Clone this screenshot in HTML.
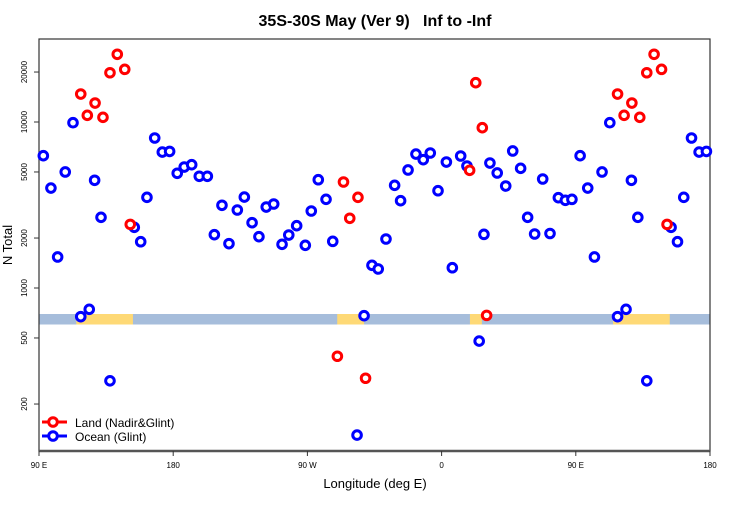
<!DOCTYPE html>
<html><head><meta charset="utf-8"><style>
body{margin:0;background:#fff}
svg text{font-family:"Liberation Sans",sans-serif}
</style></head><body>
<svg id="chart" width="750" height="500" viewBox="0 0 750 500" xmlns="http://www.w3.org/2000/svg">
<text x="375" y="26" text-anchor="middle" font-size="16" font-weight="bold" style="white-space:pre" xml:space="preserve">35S-30S May (Ver 9)   Inf to -Inf</text>
<g id="strip"></g>
<g id="frame"></g>
<g id="axes"></g>
<g id="marks"></g>
<text x="0" y="0" transform="translate(12,245) rotate(-90)" text-anchor="middle" font-size="13">N Total</text>
<text x="375" y="488" text-anchor="middle" font-size="13">Longitude (deg E)</text>
<g>
 <g>
  <line x1="42" y1="422" x2="67" y2="422" stroke="#f00" stroke-width="3"/>
  <circle cx="53" cy="422" r="4.3" fill="#fff" stroke="#f00" stroke-width="3"/>
  <text x="75" y="427" font-size="12">Land (Nadir&amp;Glint)</text>
 </g>
 <g>
  <line x1="42" y1="436" x2="67" y2="436" stroke="#00f" stroke-width="3"/>
  <circle cx="53" cy="436" r="4.3" fill="#fff" stroke="#00f" stroke-width="3"/>
  <text x="75" y="441" font-size="12">Ocean (Glint)</text>
 </g>
</g>
</svg>
<script>
// Longitudes on continuous axis 90..540 (90E .. 180 after full wrap)
const oceanLon = [92.9,98,102.5,107.6,112.8,118,123.7,127.3,131.6,137.6,153.9,158.2,162.4,167.6,172.7,177.6,182.7,187.4,192.4,197.5,202.9,207.6,212.7,217.4,223,227.7,232.9,237.5,242.4,247.4,253,257.5,262.8,268.6,272.6,277.3,282.5,287,303.3,308,313.3,317.5,322.7,328.5,332.5,337.5,342.8,347.7,352.4,357.6,363.2,367.2,372.8,377,385.2,388.4,392.4,397.3,403,407.7,413,417.7,422.4,427.8,432.7,438.3,443,447.4];
const oceanVal = [6266,4000,1538,5000,9900,672,744,4456,2666,276,2320,1900,3517,8010,6590,6650,4910,5355,5530,4710,4710,2095,3150,1850,2950,3530,2474,2038,3075,3207,1833,2085,2373,1808,2910,4490,3422,1910,130,681,1370,1302,1973,4156,3357,5140,6410,5930,6505,3855,5740,1325,6240,5430,479,2105,5660,4930,4115,6690,5260,2666,2115,4535,2130,3500,3375,3420];
const landLon = [118,122.4,127.6,132.9,137.6,142.5,147.5,151.2,290.1,294.2,298.4,303.9,309,378.8,382.9,387.3,390.2];
const landVal = [14740,10970,13010,10670,19800,25580,20760,2417,388,4350,2630,3517,286,5115,17250,9240,684];
const yTicks = [200,500,1000,2000,5000,10000,20000];
const xTickLon = [90,180,270,360,450,540];
const xTickLabels = ["90 E","180","90 W","0","90 E","180"];
const landStrips = [[115,153],[290,308],[379,387],[475,513]];

const NS="http://www.w3.org/2000/svg";
const X0=39,X1=710,Y0=39,Y1=451;
const xs = lon => X0 + (lon-90)*(X1-X0)/450;
const ys = v => 288 - 166*Math.log10(v/1000);
function mk(tag, attrs, parent){const e=document.createElementNS(NS,tag);for(const k in attrs)e.setAttribute(k,attrs[k]);parent.appendChild(e);return e;}

const strip=document.getElementById('strip');
let r=mk('rect',{x:X0,y:314,width:X1-X0,height:10.5,fill:'#a6bddb'},strip);


landStrips.forEach(s=>{
  const e=mk('rect',{x:xs(s[0]),y:314,width:xs(s[1])-xs(s[0]),height:10.5,fill:'#fed976'},strip);
  
  
});

const frame=document.getElementById('frame');
mk('rect',{x:X0,y:Y0,width:X1-X0,height:Y1-Y0,fill:'none',stroke:'#333','stroke-width':1.2},frame);
mk('line',{x1:X0,y1:Y1,x2:X1,y2:Y1,stroke:'#555','stroke-width':2.5},frame);

const axes=document.getElementById('axes');
yTicks.forEach(t=>{
  const y=ys(t);
  mk('line',{x1:X0-5,y1:y,x2:X0,y2:y,stroke:'#333'},axes);
  const tx=mk('text',{transform:`translate(${X0-12},${y}) rotate(-90)`,'text-anchor':'middle','font-size':8},axes);
  tx.textContent=t;
  
  
});
xTickLon.forEach((l,i)=>{
  const x=xs(l);
  mk('line',{x1:x,y1:Y1,x2:x,y2:Y1+5,stroke:'#333'},axes);
  const tx=mk('text',{x:x,y:Y1+17,'text-anchor':'middle','font-size':8},axes);
  tx.textContent=xTickLabels[i];
  
  
});

const marks=document.getElementById('marks');
function draw(lons,vals,color,name){
  lons.forEach((l,i)=>{
    const reps=[l]; if(l<180) reps.push(l+360);
    reps.forEach(L=>{
      if(L>540) return;
      const c=mk('circle',{cx:xs(L),cy:ys(vals[i]),r:4.3,fill:'#fff',stroke:color,'stroke-width':3},marks);
      
      
    });
  });
}
draw(oceanLon,oceanVal,'#00f','ocean-point');
draw(landLon,landVal,'#f00','land-point');
</script>
</body></html>
